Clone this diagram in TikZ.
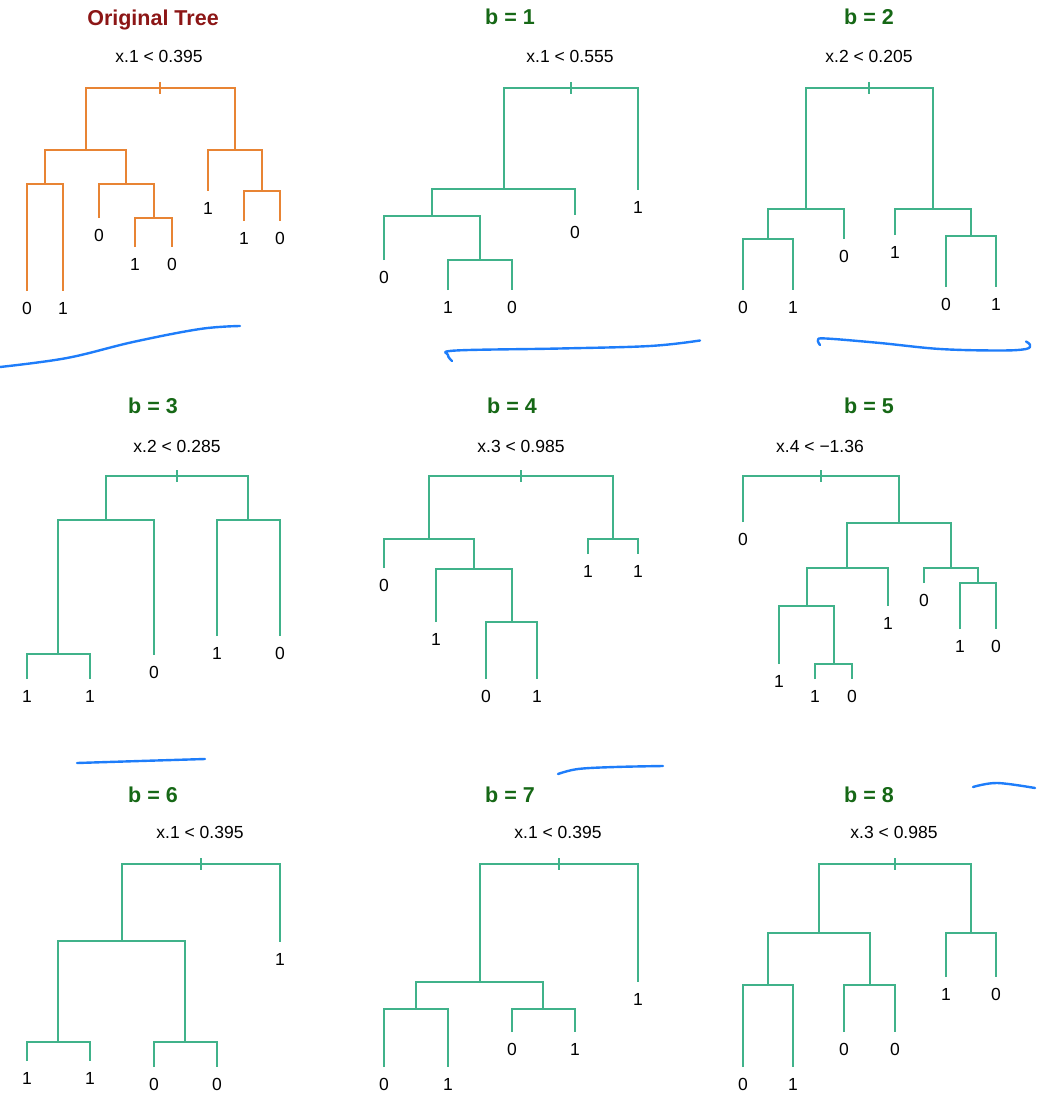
\documentclass[tikz,border=0pt]{standalone}
\usepackage{fontspec}
\setmainfont{Liberation Sans}
\definecolor{treegreen}{RGB}{64,178,138}
\definecolor{treeorange}{RGB}{232,132,52}
\definecolor{titlered}{RGB}{140,22,22}
\definecolor{titlegreen}{RGB}{22,104,22}
\definecolor{penblue}{RGB}{30,125,250}
\begin{document}
\begin{tikzpicture}[x=1pt,y=-1pt,
  branch/.style={draw=treegreen, line width=1.9pt},
  origbranch/.style={branch, draw=treeorange},
  leaf/.style={anchor=north, inner sep=0pt, outer sep=0pt, outer ysep=11pt,
    text height=12.5pt, text depth=0pt, font=\fontsize{17.5}{20}\selectfont},
  cond/.style={anchor=base, inner sep=0pt, font=\fontsize{17.5}{20}\selectfont},
  paneltitle/.style={anchor=base, inner sep=0pt, text=titlegreen,
    font=\fontsize{21.5}{24}\selectfont\bfseries},
  pen/.style={draw=penblue, line width=2.4pt, line cap=round, line join=round}]
\useasboundingbox (0,0) rectangle (1040,1094);

% ---------------- Original tree ----------------
\node[paneltitle, text=titlered] (t0) at (153,26) {Original Tree};
\node[cond] (q0) at (159,63) {x.1 < 0.395};
\coordinate (o) at (160,88);
\coordinate (oL) at (86,150);
\coordinate (oR) at (235,150);
\coordinate (oLL) at (45,184);
\coordinate (oLR) at (126,184);
\coordinate (oLRR) at (154,218);
\coordinate (oRR) at (262,191);
\node[leaf] (o1) at (27,291) {0};
\node[leaf] (o2) at (63,291) {1};
\node[leaf] (o3) at (99,218) {0};
\node[leaf] (o4) at (135,247) {1};
\node[leaf] (o5) at (172,247) {0};
\node[leaf] (o6) at (208,191) {1};
\node[leaf] (o7) at (244,221) {1};
\node[leaf] (o8) at (280,221) {0};
\draw[origbranch] (oL) |- (o) -| (oR);
\draw[origbranch] (oLL) |- (oL) -| (oLR);
\draw[origbranch] (o1.north) |- (oLL) -| (o2.north);
\draw[origbranch] (o3.north) |- (oLR) -| (oLRR);
\draw[origbranch] (o4.north) |- (oLRR) -| (o5.north);
\draw[origbranch] (o6.north) |- (oR) -| (oRR);
\draw[origbranch] (o7.north) |- (oRR) -| (o8.north);
\draw[origbranch] ([yshift=6pt]o) -- ([yshift=-6pt]o);

% ---------------- b = 1 ----------------
\node[paneltitle] (t1) at (510,25) {b = 1};
\node[cond] (q1) at (570,63) {x.1 < 0.555};
\coordinate (a) at (571,88);
\coordinate (aL) at (504,189);
\coordinate (aLL) at (432,216);
\coordinate (aLLR) at (480,260);
\node[leaf] (a1) at (384,260) {0};
\node[leaf] (a2) at (448,290) {1};
\node[leaf] (a3) at (512,290) {0};
\node[leaf] (a4) at (575,215) {0};
\node[leaf] (a5) at (638,190) {1};
\draw[branch] (aL) |- (a) -| (a5.north);
\draw[branch] (aLL) |- (aL) -| (a4.north);
\draw[branch] (a1.north) |- (aLL) -| (aLLR);
\draw[branch] (a2.north) |- (aLLR) -| (a3.north);
\draw[branch] ([yshift=6pt]a) -- ([yshift=-6pt]a);

% ---------------- b = 2 ----------------
\node[paneltitle] (t2) at (869,25) {b = 2};
\node[cond] (q2) at (869,63) {x.2 < 0.205};
\coordinate (d) at (869,88);
\coordinate (dL) at (806,209);
\coordinate (dR) at (933,209);
\coordinate (dLL) at (768,239);
\coordinate (dRR) at (971,236);
\node[leaf] (d1) at (743,290) {0};
\node[leaf] (d2) at (793,290) {1};
\node[leaf] (d3) at (844,239) {0};
\node[leaf] (d4) at (895,235) {1};
\node[leaf] (d5) at (946,287) {0};
\node[leaf] (d6) at (996,287) {1};
\draw[branch] (dL) |- (d) -| (dR);
\draw[branch] (dLL) |- (dL) -| (d3.north);
\draw[branch] (d1.north) |- (dLL) -| (d2.north);
\draw[branch] (d4.north) |- (dR) -| (dRR);
\draw[branch] (d5.north) |- (dRR) -| (d6.north);
\draw[branch] ([yshift=6pt]d) -- ([yshift=-6pt]d);

% ---------------- b = 3 ----------------
\node[paneltitle] (t3) at (153,413) {b = 3};
\node[cond] (q3) at (177,452) {x.2 < 0.285};
\coordinate (e) at (177,476);
\coordinate (eL) at (106,520);
\coordinate (eR) at (248,520);
\coordinate (eLL) at (58,654);
\node[leaf] (e1) at (27,679) {1};
\node[leaf] (e2) at (90,679) {1};
\node[leaf] (e3) at (154,655) {0};
\node[leaf] (e4) at (217,636) {1};
\node[leaf] (e5) at (280,636) {0};
\draw[branch] (eL) |- (e) -| (eR);
\draw[branch] (eLL) |- (eL) -| (e3.north);
\draw[branch] (e1.north) |- (eLL) -| (e2.north);
\draw[branch] (e4.north) |- (eR) -| (e5.north);
\draw[branch] ([yshift=6pt]e) -- ([yshift=-6pt]e);

% ---------------- b = 4 ----------------
\node[paneltitle] (t4) at (512,413) {b = 4};
\node[cond] (q4) at (521,452) {x.3 < 0.985};
\coordinate (f) at (521,476);
\coordinate (fL) at (429,539);
\coordinate (fR) at (613,539);
\coordinate (fLR) at (474,569);
\coordinate (fLRR) at (512,622);
\node[leaf] (f1) at (384,568) {0};
\node[leaf] (f2) at (436,622) {1};
\node[leaf] (f3) at (486,679) {0};
\node[leaf] (f4) at (537,679) {1};
\node[leaf] (f5) at (588,554) {1};
\node[leaf] (f6) at (638,554) {1};
\draw[branch] (fL) |- (f) -| (fR);
\draw[branch] (f1.north) |- (fL) -| (fLR);
\draw[branch] (f2.north) |- (fLR) -| (fLRR);
\draw[branch] (f3.north) |- (fLRR) -| (f4.north);
\draw[branch] (f5.north) |- (fR) -| (f6.north);
\draw[branch] ([yshift=6pt]f) -- ([yshift=-6pt]f);

% ---------------- b = 5 ----------------
\node[paneltitle] (t5) at (869,413) {b = 5};
\node[cond] (q5) at (820,452) {x.4 < −1.36};
\coordinate (g) at (821,476);
\coordinate (gR) at (899,523);
\coordinate (gRL) at (847,568);
\coordinate (gRR) at (951,568);
\coordinate (gRLL) at (807,606);
\coordinate (gRLLR) at (834,664);
\coordinate (gRRR) at (978,583);
\node[leaf] (g1) at (743,522) {0};
\node[leaf] (g2) at (779,664) {1};
\node[leaf] (g3) at (815,679) {1};
\node[leaf] (g4) at (852,679) {0};
\node[leaf] (g5) at (888,606) {1};
\node[leaf] (g6) at (924,583) {0};
\node[leaf] (g7) at (960,629) {1};
\node[leaf] (g8) at (996,629) {0};
\draw[branch] (g1.north) |- (g) -| (gR);
\draw[branch] (gRL) |- (gR) -| (gRR);
\draw[branch] (gRLL) |- (gRL) -| (g5.north);
\draw[branch] (g2.north) |- (gRLL) -| (gRLLR);
\draw[branch] (g3.north) |- (gRLLR) -| (g4.north);
\draw[branch] (g6.north) |- (gRR) -| (gRRR);
\draw[branch] (g7.north) |- (gRRR) -| (g8.north);
\draw[branch] ([yshift=6pt]g) -- ([yshift=-6pt]g);

% ---------------- b = 6 ----------------
\node[paneltitle] (t6) at (153,802) {b = 6};
\node[cond] (q6) at (200,838) {x.1 < 0.395};
\coordinate (h) at (201,864);
\coordinate (hL) at (122,941);
\coordinate (hLL) at (58,1042);
\coordinate (hLR) at (185,1042);
\node[leaf] (h1) at (27,1061) {1};
\node[leaf] (h2) at (90,1061) {1};
\node[leaf] (h3) at (154,1067) {0};
\node[leaf] (h4) at (217,1067) {0};
\node[leaf] (h5) at (280,942) {1};
\draw[branch] (hL) |- (h) -| (h5.north);
\draw[branch] (hLL) |- (hL) -| (hLR);
\draw[branch] (h1.north) |- (hLL) -| (h2.north);
\draw[branch] (h3.north) |- (hLR) -| (h4.north);
\draw[branch] ([yshift=6pt]h) -- ([yshift=-6pt]h);

% ---------------- b = 7 ----------------
\node[paneltitle] (t7) at (510,802) {b = 7};
\node[cond] (q7) at (558,838) {x.1 < 0.395};
\coordinate (k) at (559,864);
\coordinate (kL) at (480,982);
\coordinate (kLL) at (416,1009);
\coordinate (kLR) at (543,1009);
\node[leaf] (k1) at (384,1067) {0};
\node[leaf] (k2) at (448,1067) {1};
\node[leaf] (k3) at (512,1032) {0};
\node[leaf] (k4) at (575,1032) {1};
\node[leaf] (k5) at (638,982) {1};
\draw[branch] (kL) |- (k) -| (k5.north);
\draw[branch] (kLL) |- (kL) -| (kLR);
\draw[branch] (k1.north) |- (kLL) -| (k2.north);
\draw[branch] (k3.north) |- (kLR) -| (k4.north);
\draw[branch] ([yshift=6pt]k) -- ([yshift=-6pt]k);

% ---------------- b = 8 ----------------
\node[paneltitle] (t8) at (869,802) {b = 8};
\node[cond] (q8) at (894,838) {x.3 < 0.985};
\coordinate (m) at (895,864);
\coordinate (mL) at (819,933);
\coordinate (mR) at (971,933);
\coordinate (mLL) at (768,985);
\coordinate (mLR) at (870,985);
\node[leaf] (m1) at (743,1067) {0};
\node[leaf] (m2) at (793,1067) {1};
\node[leaf] (m3) at (844,1032) {0};
\node[leaf] (m4) at (895,1032) {0};
\node[leaf] (m5) at (946,977) {1};
\node[leaf] (m6) at (996,977) {0};
\draw[branch] (mL) |- (m) -| (mR);
\draw[branch] (mLL) |- (mL) -| (mLR);
\draw[branch] (m1.north) |- (mLL) -| (m2.north);
\draw[branch] (m3.north) |- (mLR) -| (m4.north);
\draw[branch] (m5.north) |- (mR) -| (m6.north);
\draw[branch] ([yshift=6pt]m) -- ([yshift=-6pt]m);

% ---------------- hand-drawn pen strokes ----------------
\draw[pen] plot[smooth, tension=0.6] coordinates {(0,367) (67,358) (133,342) (200,329) (240,326)};
\draw[pen] plot[smooth, tension=0.6] coordinates {(452,361) (448,355) (456,350.5) (560,348.5) (650,346) (700,340.5)};
\draw[pen] plot[smooth, tension=0.6] coordinates {(820,345) (818,340) (826,338.5) (880,343) (940,349) (1000,350.5) (1026,349) (1030,345) (1026,341.5)};
\draw[pen] plot[smooth, tension=0.6] coordinates {(77,763) (140,761) (205,759)};
\draw[pen] plot[smooth, tension=0.6] coordinates {(558,774) (578,769) (615,767) (663,766)};
\draw[pen] plot[smooth, tension=0.6] coordinates {(973,787) (997,783) (1035,788)};
\end{tikzpicture}
\end{document}
